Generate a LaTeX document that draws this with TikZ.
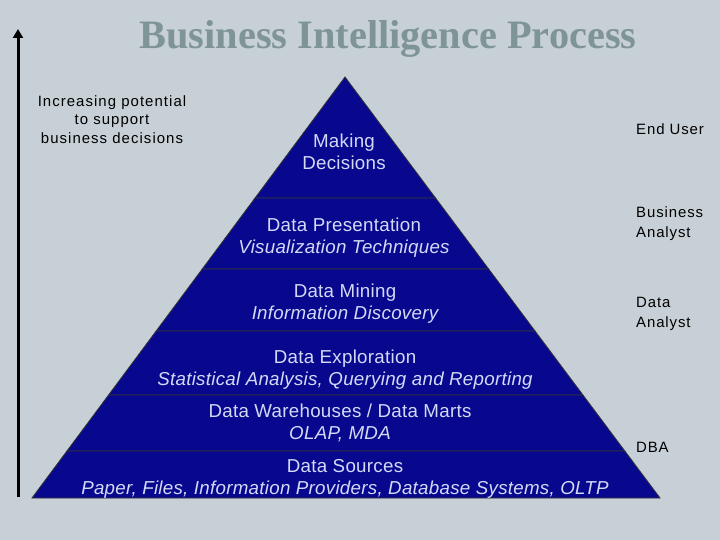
\documentclass[tikz,border=0pt]{standalone}
\usepackage{fontspec}
\setmainfont{Liberation Sans}
\newfontfamily\titlefont{Liberation Serif}
\newfontfamily\labelfont[LetterSpace=7]{Liberation Sans}
\newfontfamily\rlabelfont[LetterSpace=6]{Liberation Sans}
\newfontfamily\pfont[LetterSpace=1.5]{Liberation Sans}
\usetikzlibrary{arrows.meta}
\definecolor{bgc}{RGB}{198,208,214}
\definecolor{navy}{RGB}{8,8,142}
\definecolor{ltxt}{RGB}{212,218,246}
\definecolor{ttl}{RGB}{127,148,148}
\tikzset{
  layer/.style={fill=navy, draw=black!80, line width=0.8bp, line join=miter},
  ptext/.style={text=ltxt, align=center, font=\pfont\fontsize{18.8}{22}\selectfont, inner sep=0pt},
  rlabel/.style={anchor=west, align=left, font=\rlabelfont\fontsize{15}{20}\selectfont, inner sep=0pt},
}
\begin{document}
\begin{tikzpicture}[x=1bp,y=-1bp]
\fill[bgc] (0,0) rectangle (720,540);
\useasboundingbox (0,0) rectangle (720,540);
% pyramid geometry: apex (345,77), base (32,498)-(662,498)
\foreach \ya/\yb in {77/198,198/269,269/331,331/395,395/451,451/498}{
  \pgfmathsetmacro{\la}{345-0.7435*(\ya-77)}
  \pgfmathsetmacro{\ra}{345+0.7482*(\ya-77)}
  \pgfmathsetmacro{\lb}{345-0.7435*(\yb-77)}
  \pgfmathsetmacro{\rb}{345+0.7482*(\yb-77)}
  \draw[layer] (\la,\ya) -- (\ra,\ya) -- (\rb,\yb) -- (\lb,\yb) -- cycle;
}
% title
\node[text=ttl, font=\titlefont\bfseries\fontsize{40.5}{44}\selectfont, inner sep=0pt] (title) at (388,39) {Business Intelligence Process};
% left arrow
\coordinate (abot) at (18,497);
\coordinate (atop) at (18,29);
\draw[line width=3bp, -{Triangle[length=9bp,width=10bp]}] (abot) -- (atop);
\node[align=center, font=\labelfont\fontsize{15}{18.5}\selectfont, inner sep=0pt] (incr) at (112,119.5) {Increasing potential\\to support\\business decisions};
% pyramid texts
\node[ptext] (l1) at (344,152) {Making\\Decisions};
\node[ptext] (l2) at (344,238) {Data Presentation\\\itshape Visualization Techniques};
\node[ptext] (l3) at (345,304) {Data Mining\\\itshape Information Discovery};
\node[ptext] (l4) at (345,370) {Data Exploration\\\itshape Statistical Analysis, Querying and Reporting};
\node[ptext] (l5) at (340,423) {Data Warehouses / Data Marts\\\itshape OLAP, MDA};
\node[ptext] (l6) at (345,478.5) {Data Sources\\\itshape Paper, Files, Information Providers, Database Systems, OLTP};
% right labels
\node[rlabel] (r1) at (636,129) {End User};
\node[rlabel] (r2) at (636,224) {Business\\Analyst};
\node[rlabel] (r3) at (636,314) {Data\\Analyst};
\node[rlabel] (r4) at (636,447) {DBA};
\end{tikzpicture}
\end{document}
